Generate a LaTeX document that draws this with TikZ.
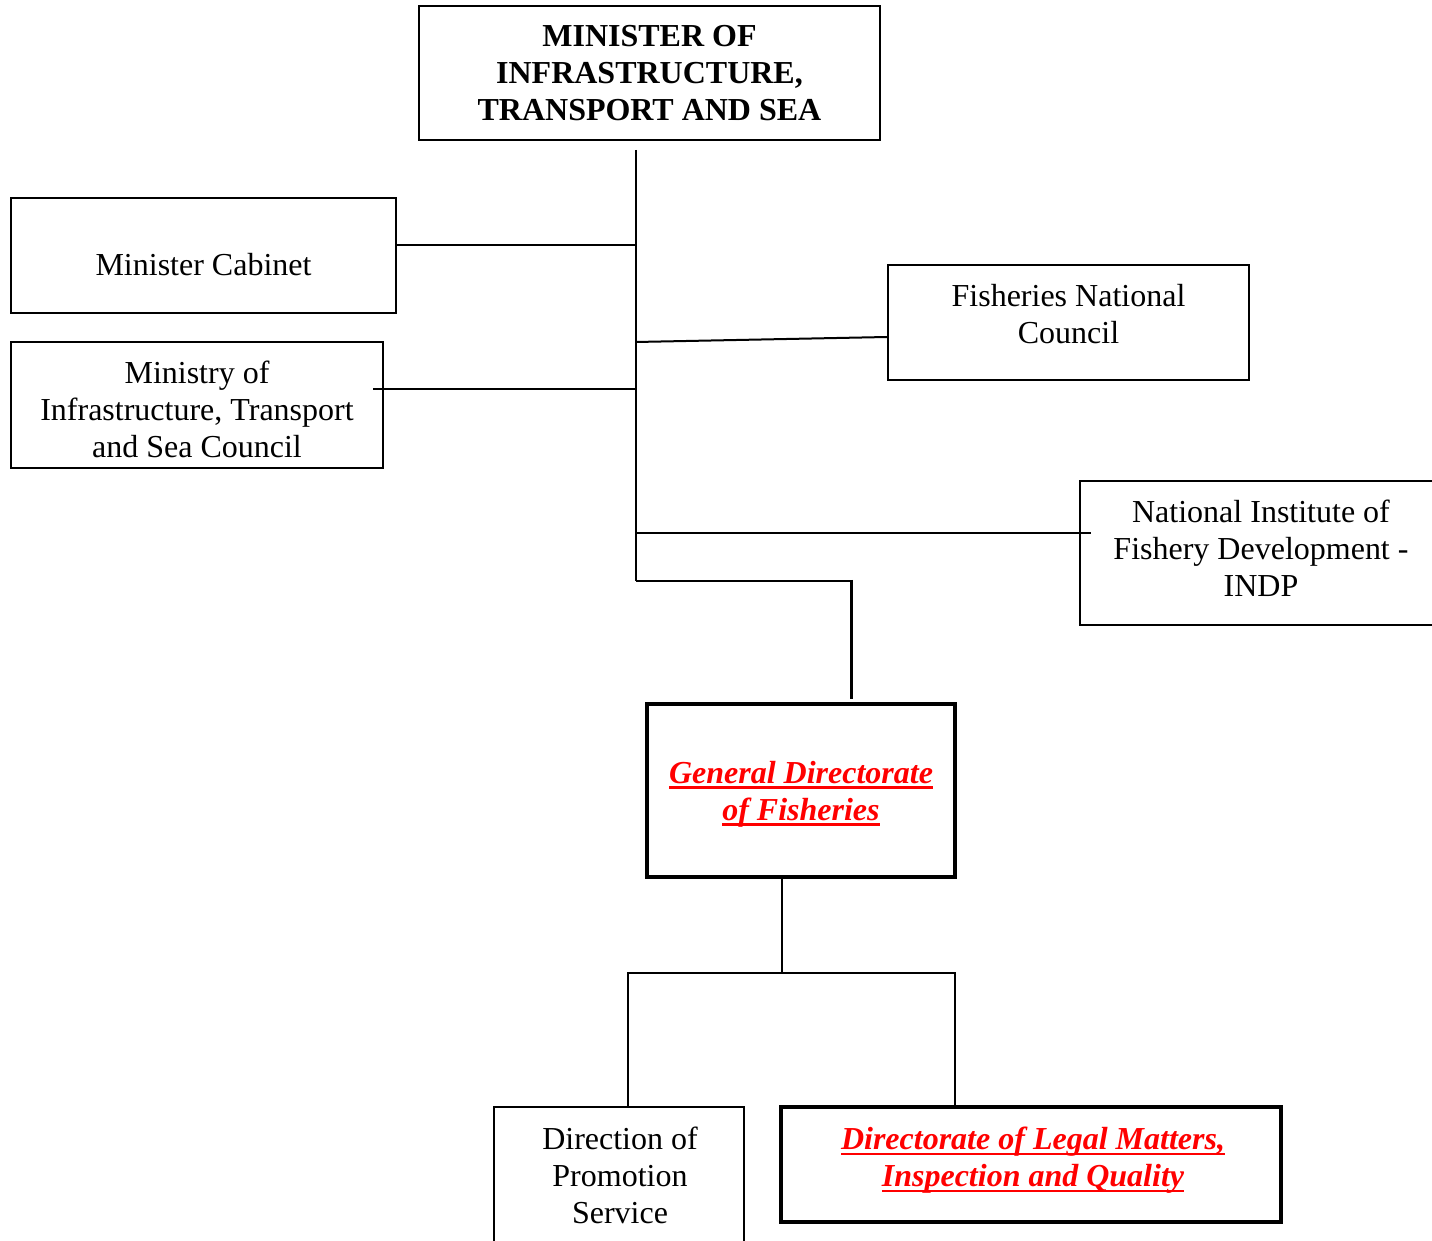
\documentclass[tikz,border=0pt]{standalone}
\usepackage{fontspec}
\setmainfont{Liberation Serif}
\usepackage{tikz}
\usetikzlibrary{positioning}

% thick underline for the red titles
\newcommand{\ulred}[1]{\setbox0\hbox{#1}\rlap{\rule[-3pt]{\wd0}{1.4pt}}\box0}

\begin{document}
\begin{tikzpicture}[
        x=0.5pt, y=-0.5pt,
        box/.style={draw, line width=1pt, rectangle, inner sep=0pt},
        keybox/.style={box, line width=1.8pt},
        txt/.style={inner sep=0pt, align=center, font=\fontsize{16}{18.5}\selectfont},
        redtxt/.style={txt, text=red, font=\fontsize{16}{18.5}\selectfont\bfseries\itshape},
        link/.style={line width=1pt}
    ]
        \useasboundingbox (0,0) rectangle (1432,1241);

        % boxes
        \node (minister) [box, minimum width=230.5pt, minimum height=67pt] at (649.5,73) {};
        \node (cab) [box, minimum width=192.5pt, minimum height=57.5pt] at (203.5,255.5) {};
        \node (mcouncil) [box, minimum width=186pt, minimum height=63pt] at (197,405) {};
        \node (fnc) [box, minimum width=180.5pt, minimum height=57.5pt] at (1068.5,322.5) {};
        \node (indp) [box, minimum width=181pt, minimum height=72pt] at (1261,553) {};
        \node (gdf) [keybox, minimum width=154pt, minimum height=86.5pt] at (801,790.5) {};
        \node (dps) [box, minimum width=125pt, minimum height=68pt] at (619,1175) {};
        \node (dlq) [keybox, minimum width=250pt, minimum height=57.5pt] at (1031,1164.5) {};

        % texts
        \node (minister_txt) [txt, font=\fontsize{16}{18.5}\selectfont\bfseries] at (649.5,73) {MINISTER OF\\INFRASTRUCTURE,\\TRANSPORT AND SEA};
        \node (cab_txt) [txt] at (203.5,265) {Minister Cabinet};
        \node (mcouncil_txt) [txt] at (197,409) {Ministry of\\Infrastructure, Transport\\and Sea Council};
        \node (fnc_txt) [txt] at (1068.5,314) {Fisheries National\\Council};
        \node (indp_txt) [txt] at (1261,548) {National Institute of\\Fishery Development -\\INDP};
        \node (gdf_txt) [redtxt] at (801,794) {\ulred{General Directorate}\\\ulred{of Fisheries}};
        \node (dps_txt) [txt] at (620,1175) {Direction of\\Promotion\\Service};
        \node (dlq_txt) [redtxt] at (1033,1160) {\ulred{Directorate of Legal Matters,}\\\ulred{Inspection and Quality}};

        % spine and branches
        \coordinate (spine_top) at (636,150);
        \coordinate (spine_bot) at (636,581);
        \coordinate (j_cab) at (636,245);
        \coordinate (j_fnc) at (636,342);
        \coordinate (j_mc) at (636,389);
        \coordinate (j_indp) at (636,533);
        \coordinate (bend) at (851,581);
        \coordinate (bar) at (782,973);

        \draw [link] (spine_top) -- (spine_bot);
        \draw [link] (j_cab) -- (j_cab -| cab.east);
        \draw [link] (j_fnc) -- ([yshift=-7.25pt]fnc.west);
        \draw [link] (j_mc) -- ([xshift=-5.5pt]j_mc -| mcouncil.east);
        \draw [link] (j_indp) -- ([xshift=6pt]j_indp -| indp.west);
        \draw [link] (spine_bot) -- ([xshift=0.75pt]bend);
        \draw [link, line width=1.5pt] ([yshift=0.5pt]bend) -- ([xshift=25pt,yshift=1.5pt]gdf.north);

        \draw [link] ([xshift=-9.5pt]gdf.south) -- (bar);
        \draw [link] ([xshift=4.5pt]dps.north) |- (bar) -| ([xshift=-38pt]dlq.north);
    \end{tikzpicture}
\end{document}
